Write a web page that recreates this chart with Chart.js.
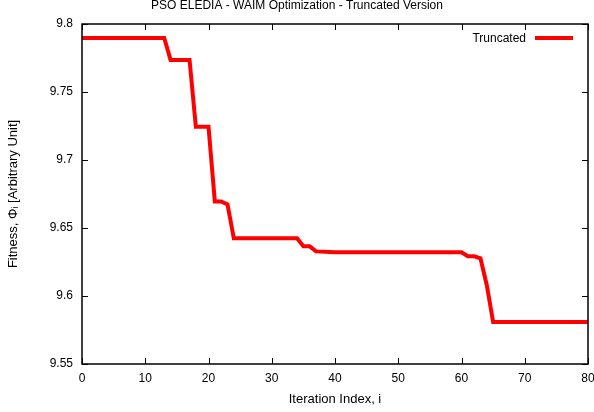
<!DOCTYPE html>
<html>
<head>
<meta charset="utf-8">
<script src="https://cdn.jsdelivr.net/npm/chart.js@4"></script>
<style>
  html, body { margin: 0; padding: 0; background: #fff; }
  #wrap { width: 594px; height: 412px; }
</style>
</head>
<body>
<div id="wrap"><canvas id="myChart" width="594" height="412"></canvas></div>
<script>
const iterations = [0, 13, 14, 17, 18, 20, 21, 22, 23, 24, 34, 35, 36, 37, 40, 60, 61, 62, 63, 64, 65, 80];
const fitness = [
  9.7897, 9.7897, 9.7736, 9.7736, 9.7245, 9.7245, 9.6695, 9.6695, 9.6673, 9.6424, 9.6424,
  9.6365, 9.6365, 9.6328, 9.6321, 9.6321, 9.6292, 9.6292, 9.6277, 9.6079, 9.5808, 9.5808,
];
const seriesName = "Truncated";

const fontFamily = "'Liberation Sans', Arial, sans-serif";

// gnuplot style frame: box + inward ticks on all sides, legend inside top-right
const boxTicks = {
  id: "boxTicks",
  afterDraw(chart) {
    const { ctx, chartArea: a, scales } = chart;
    const x = scales.x;
    const y = scales.y;
    const len = 6;
    ctx.save();
    ctx.strokeStyle = "#000";
    ctx.lineWidth = 1;
    ctx.beginPath();
    x.ticks.forEach((t) => {
      const px = Math.round(x.getPixelForValue(t.value)) + 0.5;
      ctx.moveTo(px, a.bottom);
      ctx.lineTo(px, a.bottom - len);
      ctx.moveTo(px, a.top);
      ctx.lineTo(px, a.top + len);
    });
    y.ticks.forEach((t) => {
      const py = Math.round(y.getPixelForValue(t.value)) + 0.5;
      ctx.moveTo(a.left, py);
      ctx.lineTo(a.left + len, py);
      ctx.moveTo(a.right, py);
      ctx.lineTo(a.right - len, py);
    });
    ctx.stroke();
    ctx.lineWidth = 1.5;
    ctx.strokeRect(a.left, a.top, a.right - a.left, a.bottom - a.top);

    // legend
    const ly = a.top + 15;
    ctx.fillStyle = "#000";
    ctx.font = "12px " + fontFamily;
    ctx.textAlign = "right";
    ctx.textBaseline = "middle";
    ctx.fillText(seriesName, a.right - 62, ly);
    ctx.strokeStyle = "#ff0000";
    ctx.lineWidth = 4;
    ctx.beginPath();
    ctx.moveTo(a.right - 53, ly - 1);
    ctx.lineTo(a.right - 15, ly - 1);
    ctx.stroke();
    ctx.restore();
  },
};

const ctx = document.getElementById("myChart").getContext("2d");
const myChart = new Chart(ctx, {
  type: "line",
  data: {
    datasets: [
      {
        label: seriesName,
        data: iterations.map((it, i) => ({ x: it, y: fitness[i] })),
        borderColor: "#ff0000",
        borderWidth: 4,
        pointRadius: 0,
        tension: 0,
        fill: false,
      },
    ],
  },
  options: {
    responsive: false,
    animation: false,
    layout: {
      padding: { left: 6, right: 6, top: 0, bottom: 0 },
    },
    scales: {
      x: {
        type: "linear",
        min: 0,
        max: 80,
        grid: { display: false, drawTicks: false },
        border: { display: false },
        ticks: {
          stepSize: 10,
          color: "#000",
          font: { family: fontFamily, size: 12 },
          padding: 7,
          maxRotation: 0,
        },
        title: {
          display: true,
          text: "Iteration Index, i",
          color: "#000",
          font: { family: fontFamily, size: 13 },
          padding: { top: 4, bottom: 5 },
        },
        afterFit(scale) {
          scale.height = 48;
          // let the last label run off the edge, as in the original
          scale.paddingRight = 0;
        },
      },
      y: {
        min: 9.55,
        max: 9.8,
        grid: { display: false, drawTicks: false },
        border: { display: false },
        ticks: {
          stepSize: 0.05,
          color: "#000",
          font: { family: fontFamily, size: 12 },
          padding: 9,
          callback: (v) => String(Number(v.toFixed(2))),
        },
        title: {
          display: true,
          text: "Fitness, \u03A6\u1D62 [Arbitrary Unit]",
          color: "#000",
          font: { family: fontFamily, size: 13 },
          padding: { top: 0, bottom: 0 },
        },
        afterFit(scale) {
          scale.width = 76;
        },
      },
    },
    plugins: {
      legend: { display: false },
      tooltip: { enabled: false },
      title: {
        display: true,
        text: "PSO ELEDIA - WAIM Optimization - Truncated Version",
        color: "#000",
        font: { family: fontFamily, size: 12, weight: "normal", lineHeight: 1 },
        padding: { top: 0, bottom: 12 },
      },
    },
  },
  plugins: [boxTicks],
});
</script>
</body>
</html>
